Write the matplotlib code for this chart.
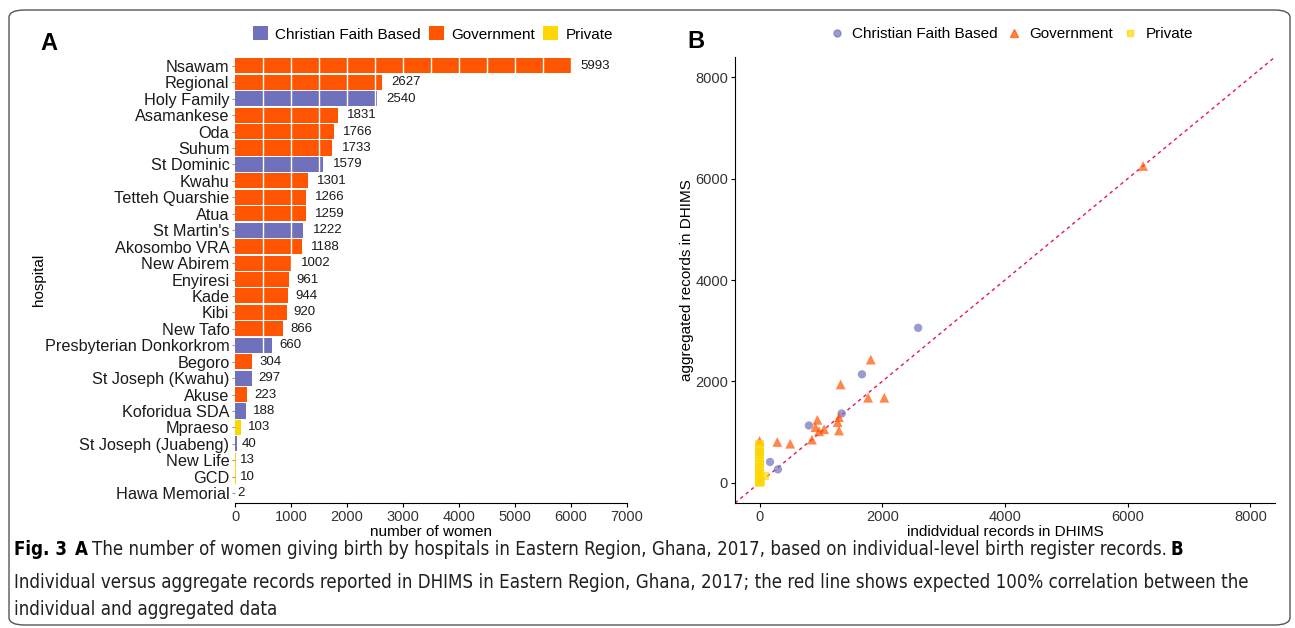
import matplotlib
matplotlib.use("Agg")
import matplotlib.pyplot as plt
from matplotlib.patches import FancyBboxPatch, Patch
from matplotlib.lines import Line2D

# data: panel A (individual-level birth register records)
hospitals = ["Nsawam", "Regional", "Holy Family", "Asamankese", "Oda", "Suhum",
             "St Dominic", "Kwahu", "Tetteh Quarshie", "Atua", "St Martin's",
             "Akosombo VRA", "New Abirem", "Enyiresi", "Kade", "Kibi", "New Tafo",
             "Presbyterian Donkorkrom", "Begoro", "St Joseph (Kwahu)", "Akuse",
             "Koforidua SDA", "Mpraeso", "St Joseph (Juabeng)", "New Life", "GCD",
             "Hawa Memorial"]
women = [5993, 2627, 2540, 1831, 1766, 1733, 1579, 1301, 1266, 1259, 1222,
         1188, 1002, 961, 944, 920, 866, 660, 304, 297, 223, 188, 103, 40, 13, 10, 2]
ownership = ["G", "G", "C", "G", "G", "G", "C", "G", "G", "G", "C", "G", "G", "G",
             "G", "G", "G", "C", "G", "C", "G", "C", "P", "C", "P", "P", "P"]

# data: panel B (individual vs aggregated records in DHIMS)
cfb_x = [2584, 1669, 1339, 804, 0, 170, 300]
cfb_y = [3056, 2139, 1366, 1129, 605, 410, 264]
gov_x = [6250, 1813, 1322, 1769, 2033, 1295, 942, 1273, 909, 1052, 970, 1295, 854, 290, 500, 0]
gov_y = [6250, 2430, 1940, 1677, 1677, 1294, 1241, 1195, 1096, 1056, 1016, 1030, 851, 805, 770, 825]
pri_x = [0, 0, 0, 0, 0, 0, 0, 0, 0, 0, 0, 0, 0, 0, 90, 15]
pri_y = [755, 690, 610, 560, 480, 430, 370, 300, 250, 190, 130, 80, 30, 0, 140, 20]

groups = ["Christian Faith Based", "Government", "Private"]
bar_colors = {"C": "#6F71BC", "G": "#FF5500", "P": "#FFD700"}

W, H = 1295, 628
fig = plt.figure(figsize=(W / 100, H / 100), dpi=100)
plt.rcParams['font.family'] = ['Liberation Sans', 'DejaVu Sans']
tick_col = "#333333"

# frame
fig.patches.append(FancyBboxPatch((9 / W, 3 / H), 1281 / W, 615 / H,
                                  boxstyle="round,pad=0,rounding_size=0.012",
                                  transform=fig.transFigure, fill=False,
                                  edgecolor="#555555", linewidth=1.0))

# ---- panel A
axA = fig.add_axes([235 / W, 1 - 503 / H, 392 / W, 447 / H])
ypos = list(range(len(hospitals)))[::-1]
axA.barh(ypos, women, height=0.92, color=[bar_colors[o] for o in ownership])
for v in range(500, 7000, 500):
    axA.axvline(v, color="white", linewidth=1.0, zorder=3)
for y, v in zip(ypos, women):
    axA.annotate(str(v), (v, y), xytext=(1.7 * len(str(v)), 0), textcoords="offset points",
                 va="center", ha="left", fontsize=9.5, color="#1a1a1a")
axA.set_xlim(0, 7000)
axA.set_ylim(-0.6, len(hospitals) - 0.4)
axA.set_yticks(ypos)
axA.set_yticklabels(hospitals, fontsize=11.7, color="#1a1a1a")
axA.set_xticks(range(0, 7001, 1000))
axA.tick_params(axis="x", labelsize=10.5, labelcolor=tick_col, length=3, pad=2)
axA.tick_params(axis="y", length=2, pad=2, color="#999999")
for s in ["top", "right", "left"]:
    axA.spines[s].set_visible(False)
axA.set_xlabel("number of women", fontsize=11, labelpad=1)
axA.set_ylabel("hospital", fontsize=11)
axA.yaxis.set_label_coords(-0.482, 0.5)

handlesA = [Patch(facecolor=bar_colors[k]) for k in ["C", "G", "P"]]
fig.legend(handlesA, groups, loc="center", bbox_to_anchor=(433 / W, 1 - 34 / H), ncol=3,
           frameon=False, fontsize=11, handlelength=1.0, handleheight=1.0,
           handletextpad=0.5, columnspacing=0.5)
fig.text(40 / W, 1 - 44 / H, "A", fontsize=17, fontweight="bold", va="center")

# ---- panel B
axB = fig.add_axes([735 / W, 1 - 503 / H, 540 / W, 446 / H])
axB.plot([-400, 8400], [-400, 8400], color="#E8174A", linestyle=(0, (2.5, 2.5)), linewidth=1.0, zorder=1)
axB.scatter(cfb_x, cfb_y, s=36, marker="o", color="#6F71BC", alpha=0.7, edgecolors="none", zorder=2)
axB.scatter(gov_x, gov_y, s=50, marker="^", color="#FF5500", alpha=0.7, edgecolors="none", zorder=2)
axB.scatter(pri_x, pri_y, s=34, marker="s", color="#FFD700", alpha=0.7, edgecolors="none", zorder=2)
axB.set_xlim(-400, 8400)
axB.set_ylim(-400, 8400)
axB.set_xticks([0, 2000, 4000, 6000, 8000])
axB.set_yticks([0, 2000, 4000, 6000, 8000])
axB.tick_params(labelsize=10.5, labelcolor=tick_col, length=3, pad=2)
for s in ["top", "right"]:
    axB.spines[s].set_visible(False)
axB.set_xlabel("indidvidual records in DHIMS", fontsize=11, labelpad=1)
axB.set_ylabel("aggregated records in DHIMS", fontsize=11)
axB.yaxis.set_label_coords(-0.076, 0.5)

handlesB = [Line2D([], [], marker="o", linestyle="none", color="#6F71BC", alpha=0.7, markersize=5),
            Line2D([], [], marker="^", linestyle="none", color="#FF5500", alpha=0.7, markersize=6),
            Line2D([], [], marker="s", linestyle="none", color="#FFD700", alpha=0.7, markersize=5)]
fig.legend(handlesB, groups, loc="center", bbox_to_anchor=(1011 / W, 1 - 34 / H), ncol=3,
           frameon=False, fontsize=11, handlelength=1.0, handletextpad=0.5, columnspacing=0.6)
fig.text(687 / W, 1 - 42 / H, "B", fontsize=17, fontweight="bold", va="center")

# ---- caption
cap_lines = [
    [("Fig. 3", "bold", 8), ("A", "bold", 4),
     ("The number of women giving birth by hospitals in Eastern Region, Ghana, 2017, based on individual-level birth register records.", "normal", 4),
     ("B", "bold", 0)],
    [("Individual versus aggregate records reported in DHIMS in Eastern Region, Ghana, 2017; the red line shows expected 100% correlation between the", "normal", 0)],
    [("individual and aggregated data", "normal", 0)],
]
baselines = [555, 588, 615]
fig.canvas.draw()
renderer = fig.canvas.get_renderer()
for parts, yb in zip(cap_lines, baselines):
    x = 14
    for txt, wt, gap in parts:
        t = fig.text(x / W, 1 - yb / H, txt, fontsize=13.4, fontweight=wt, va="baseline",
                     family="DejaVu Sans", fontstretch="condensed",
                     color="#000000" if wt == "bold" else "#231F20")
        bb = t.get_window_extent(renderer)
        x = bb.x1 + gap

fig.savefig("out.png", dpi=100)
